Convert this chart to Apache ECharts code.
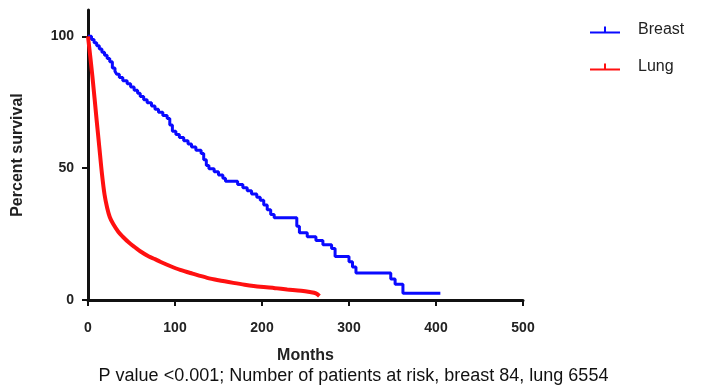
<!DOCTYPE html>
<html>
<head>
<meta charset="utf-8">
<script src="https://cdn.jsdelivr.net/npm/echarts@6/dist/echarts.min.js"></script>
<style>
  html, body { margin: 0; padding: 0; background: #fff; }
  #chart { width: 707px; height: 392px; }
</style>
</head>
<body>
<div id="chart"></div>
<script>
    // Kaplan-Meier curves (months, percent survival)
    var breastMonths = [0, 4, 7, 10, 13, 16, 19, 22, 25, 28, 31, 33, 36, 40, 45, 49, 53, 57, 60, 64, 68, 73, 77, 81, 86, 91, 94, 97, 101, 105, 110, 115, 119, 124, 130, 133, 136, 139, 145, 150, 155, 158, 172, 178, 183, 188, 194, 198, 202, 206, 210, 214, 240, 243, 252, 262, 270, 280, 284, 300, 304, 308, 348, 353, 362, 405];
    var breastSurvival = [100, 98.8, 97.6, 96.4, 95.2, 94, 92.8, 91.6, 90.4, 88, 86.8, 85.6, 84.4, 83.2, 82, 80.8, 79.6, 78.4, 77.2, 76, 74.8, 73.6, 72.4, 71.2, 70, 68.8, 66.4, 64, 62.8, 61.6, 60.4, 59.2, 58, 56.8, 55.6, 53.2, 51, 49.8, 48.6, 47.4, 46.2, 45, 43.8, 42.6, 41.4, 40.2, 39, 37.8, 36, 34.2, 32.4, 31.2, 28, 25.5, 24, 22.6, 21, 19.5, 16.5, 14.5, 12.5, 10.2, 8, 6, 2.6, 2.6];
    var lungMonths = [0, 5, 10, 13, 16, 19, 22, 25, 29, 35, 40, 47, 54, 60, 70, 77, 83, 95, 106, 120, 137, 150, 167, 180, 198, 215, 229, 245, 255, 262, 266];
    var lungSurvival = [100, 85, 68, 58, 48, 40, 35, 31.5, 28.8, 25.8, 24, 21.8, 20, 18.5, 16.5, 15.5, 14.5, 12.8, 11.4, 10, 8.4, 7.5, 6.5, 5.8, 5, 4.5, 4, 3.5, 3, 2.5, 1.5];
    var yTicks = [0, 50, 100];
    var footnote = 'P value <0.001; Number of patients at risk, breast 84, lung 6554';

    function pairs(xs, ys) {
        var out = [];
        for (var i = 0; i < xs.length; i++) out.push([xs[i], ys[i]]);
        return out;
    }

    var tickIcon = 'path://M0,7 L30,7 L30,9 L0,9 Z M14,2 L16,2 L16,8 L14,8 Z';

    var myChart = echarts.init(document.getElementById('chart'));
    var option = {
        animation: false,
        textStyle: { fontFamily: 'Liberation Sans' },
        grid: { left: 88, right: 184, top: 10, bottom: 92 },
        title: {
            text: footnote,
            left: 'center',
            bottom: 2,
            textStyle: { fontSize: 18, fontWeight: 'normal', color: '#111', fontFamily: 'Liberation Sans' }
        },
        legend: {
            orient: 'vertical',
            left: 585,
            top: 17,
            itemWidth: 30,
            itemHeight: 9,
            itemGap: 21,
            textStyle: { fontSize: 16, color: '#222', padding: [0, 0, 0, 13] },
            data: [
                { name: 'Breast', icon: tickIcon },
                { name: 'Lung', icon: tickIcon }
            ]
        },
        xAxis: {
            type: 'value',
            min: 0,
            max: 500,
            interval: 100,
            name: 'Months',
            nameLocation: 'middle',
            nameGap: 48,
            nameTextStyle: { fontSize: 16, fontWeight: 'bold', color: '#222' },
            splitLine: { show: false },
            axisLine: { lineStyle: { color: '#111', width: 3 } },
            axisTick: { inside: false, length: 6, lineStyle: { color: '#111', width: 2 } },
            axisLabel: { margin: 21, fontSize: 14, fontWeight: 'bold', color: '#222' }
        },
        yAxis: {
            type: 'value',
            min: 0,
            max: 110,
            name: 'Percent survival',
            nameLocation: 'middle',
            nameGap: 62,
            nameTextStyle: { fontSize: 16, fontWeight: 'bold', color: '#222' },
            splitLine: { show: false },
            axisLine: { show: true, lineStyle: { color: '#111', width: 3 } },
            axisTick: { show: true, length: 6, customValues: yTicks, lineStyle: { color: '#111', width: 2 } },
            axisLabel: { margin: 14, fontSize: 14, fontWeight: 'bold', color: '#222', customValues: yTicks }
        },
        series: [
            {
                name: 'Breast',
                type: 'line',
                step: 'end',
                showSymbol: false,
                color: '#0a0aff',
                lineStyle: { width: 3 },
                data: pairs(breastMonths, breastSurvival)
            },
            {
                name: 'Lung',
                type: 'line',
                smooth: 0.3,
                showSymbol: false,
                color: '#ff1010',
                lineStyle: { width: 4 },
                data: pairs(lungMonths, lungSurvival)
            }
        ]
    };
    myChart.setOption(option);
</script>
</body>
</html>
